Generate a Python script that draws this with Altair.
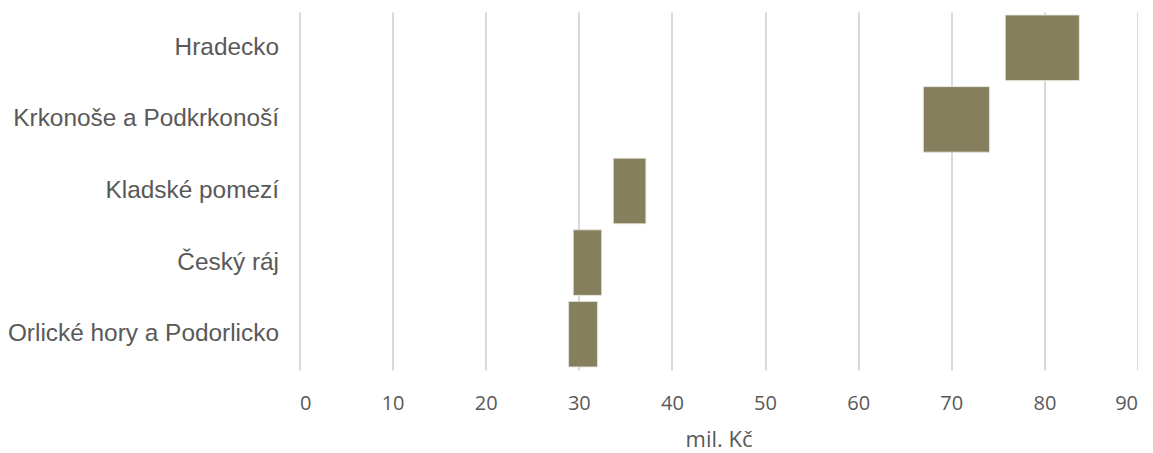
import altair as alt
import pandas as pd

regions = ["Hradecko", "Krkonoše a Podkrkonoší", "Kladské pomezí", "Český ráj", "Orlické hory a Podorlicko"]
starts = [75.8, 67.0, 33.7, 29.4, 28.9]
ends = [83.75, 74.1, 37.2, 32.45, 32.0]
x_ticks = [0, 10, 20, 30, 40, 50, 60, 70, 80, 90]

df = pd.DataFrame({"region": regions, "start": starts, "end": ends})

chart = alt.Chart(df).mark_bar(
    color="#857f5e", stroke="#e8e6dc", strokeWidth=0.8
).encode(
    y=alt.Y("region:N", sort=regions,
            scale=alt.Scale(paddingInner=0.085, paddingOuter=0.0425),
            axis=alt.Axis(title=None, labelFont="Liberation Sans", labelFontSize=24.4,
                          labelColor="#595959", labelPadding=21, ticks=False,
                          domain=False, grid=False, labelLimit=400)),
    x=alt.X("start:Q", scale=alt.Scale(domain=[0, 90], nice=False),
            axis=alt.Axis(title="mil. Kč", values=x_ticks, labelFont="Open Sans",
                          labelFontSize=20, labelColor="#595959", labelPadding=23,
                          titleFont="Open Sans", titleFontSize=22, titleColor="#595959",
                          titleFontWeight="normal", titlePadding=16,
                          ticks=False, domain=False, grid=True,
                          gridColor="#d9d9d9", gridWidth=2)),
    x2="end:Q",
).properties(
    width=838, height=358,
    autosize=alt.AutoSizeParams(type="none"),
    padding={"left": 291.5, "top": 4, "right": 0, "bottom": 82},
).configure_view(stroke=None)

chart.save("out.html", embed_options={"renderer": "svg", "actions": False})
